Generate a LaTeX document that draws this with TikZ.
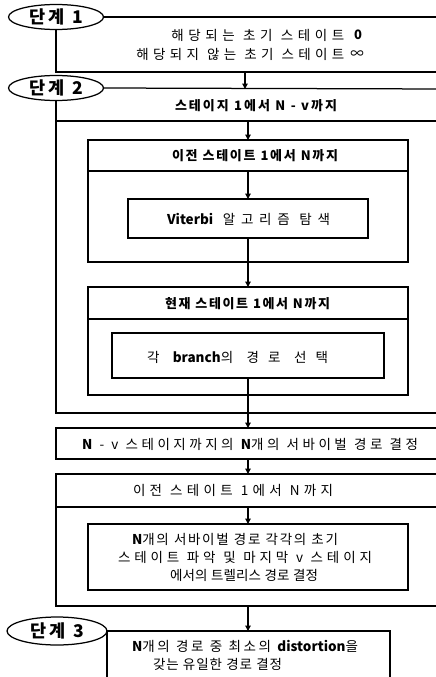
\documentclass[tikz,border=0pt]{standalone}
\usepackage{fontspec}
\setmainfont{Noto Sans CJK KR}
\usetikzlibrary{arrows.meta,shapes.geometric}
% spread Hangul syllables so that a line fills a given width
\XeTeXinterchartokenstate=1
\newcount\hgcnt
\hgcnt="AC00
\loop\ifnum\hgcnt<"D7A4 \XeTeXcharclass\hgcnt=7 \advance\hgcnt by 1 \repeat
\XeTeXinterchartoks 7 7 = {\hskip 0pt plus 1fil minus .5pt\relax}
\XeTeXinterchartoks 7 0 = {\hskip 0pt plus 1fil\relax}
\XeTeXinterchartoks 0 7 = {\hskip 0pt plus 1fil\relax}
\newcommand{\fitw}[2]{\hbox to #1{\spaceskip=.25em plus 1.1fil minus .2em\relax #2}}
\begin{document}
\begin{tikzpicture}[x=1pt,y=-1pt,line width=1.25pt,
  box/.style={draw,line width=1.25pt,outer sep=0pt,inner sep=0pt},
  txt/.style={inner sep=0pt,font=\fontsize{13.5}{15}\selectfont},
  htxt/.style={inner sep=0pt,font=\fontsize{13}{15}\selectfont\bfseries},
  stepell/.style={draw,ellipse,line width=1.25pt,outer sep=0pt,inner sep=0pt,minimum width=95pt,minimum height=25pt,font=\fontsize{17.5}{20}\selectfont\bfseries},
  arr/.style={-{Triangle[length=5.5pt,width=5.5pt]},line width=1.25pt}]
\useasboundingbox (0,0) rectangle (436,677);
\clip (0,0) rectangle (436,677);
% ---- step 1
\node[stepell] (s1) at (56,17) {\fitw{54pt}{단계 1}};
\coordinate (s1tr) at (445,17);
\coordinate (s1bl) at (56,72);
\coordinate (s1br) at (445,72);
\draw (s1.east) -- (s1tr);
\draw (s1.south) -- (s1bl) -- (s1br);
\node[txt,anchor=east] (t1a) at (345,35) {\fitw{173pt}{해당되는 초기 스테이트}};
\node[htxt] (v1a) at (358,35) {0};
\node[txt,anchor=east] (t1b) at (345,54) {\fitw{208pt}{해당되지 않는 초기 스테이트}};
\node[txt] (v1b) at (357,55) {∞};
% ---- step 2
\node[stepell] (s2) at (56,88) {\fitw{54pt}{단계 2}};
\coordinate (s2tr) at (445,89);
\draw (s2.east) -- (s2tr);
\coordinate (a1s) at (245,72);
\coordinate (a1e) at (245,89);
\draw[arr] (a1s) -- (a1e);
\node[htxt] (t2) at (256,106) {\fitw{162pt}{스테이지 1에서 N - v까지}};
\coordinate (d2l) at (56,121);
\coordinate (d2r) at (445,121);
\draw (d2l) -- (d2r);
\coordinate (s2bl) at (56,413);
\coordinate (s2br) at (445,413);
\draw (s2.south) -- (s2bl) -- (s2br);
% box 1
\node[box,minimum width=320pt,minimum height=122pt,anchor=north west] (b1) at (88,140) {};
\draw ([yshift=-31pt]b1.north west) -- ([yshift=-31pt]b1.north east);
\node[htxt] (h1) at (255,155.5) {\fitw{166pt}{이전 스테이트 1에서 N까지}};
\coordinate (a2s) at (248,121);
\draw[arr] (a2s) -- (a2s |- b1.north);
\node[box,minimum width=240pt,minimum height=39pt] (vit) at (248,218.5) {};
\node[txt] (vitt) at (248.5,219.5) {\fitw{163pt}{\textbf{Viterbi} 알고리즘 탐색}};
\coordinate (h1b) at (248,171);
\draw[arr] (h1b) -- (vit.north);
% box 2
\node[box,minimum width=320pt,minimum height=108pt,anchor=north west] (b2) at (88,287) {};
\draw ([yshift=-32pt]b2.north west) -- ([yshift=-32pt]b2.north east);
\node[htxt] (h2) at (247.5,303.5) {\fitw{165pt}{현재 스테이트 1에서 N까지}};
\draw[arr] (vit.south) -- (vit.south |- b2.north);
\node[box,minimum width=272pt,minimum height=45pt] (br) at (248,355.5) {};
\node[txt] (brt) at (237.5,357) {\fitw{181pt}{각 \textbf{branch}의 경로 선택}};
% N - v box
\node[box,minimum width=400pt,minimum height=31pt,anchor=north west] (nv) at (56,428) {};
\node[txt] (nvt) at (250,444) {\fitw{336pt}{\textbf{N} - v 스테이지까지의 \textbf{N}개의 서바이벌 경로 결정}};
\draw[arr] (br.south) -- (br.south |- nv.north);
% bottom outer box
\node[box,minimum width=400pt,minimum height=132pt,anchor=north west] (ob) at (56,474) {};
\draw ([yshift=-33pt]ob.north west) -- ([yshift=-33pt]ob.north east);
\node[txt] (h3) at (233,490.5) {\fitw{200pt}{이전 스테이트 1에서 N까지}};
\draw[arr] (br.south |- nv.south) -- (br.south |- ob.north);
\node[box,minimum width=320pt,minimum height=66pt,anchor=north west] (ib) at (88,524) {};
\coordinate (h3b) at (248,507);
\draw[arr] (h3b) -- (h3b |- ib.north);
\node[txt] (l1) at (235,539) {\fitw{206pt}{\textbf{N}개의 서바이벌 경로 각각의 초기}};
\node[txt] (l2) at (245,557) {\fitw{254pt}{스테이트 파악 및 마지막 v 스테이지}};
\node[txt] (l3) at (244,575) {\fitw{148pt}{에서의 트렐리스 경로 결정}};
% ---- step 3
\node[stepell,minimum width=100pt,minimum height=28pt] (s3) at (57,631) {\fitw{54pt}{단계 3}};
\coordinate (s3tr) at (390,631);
\coordinate (s3br) at (390,690);
\coordinate (s3bl) at (107,690);
\draw (s3.east) -- (s3tr) -- (s3br);
\draw (s3.east) -- (s3bl);
\coordinate (a9s) at (248,606);
\draw[arr] (a9s) -- (a9s |- s3tr);
\node[txt] (f1) at (245,646) {\fitw{226pt}{\textbf{N}개의 경로 중 최소의 \textbf{distortion}을}};
\node[txt] (f2) at (217.5,664) {\fitw{129pt}{갖는 유일한 경로 결정}};
\end{tikzpicture}
\end{document}
